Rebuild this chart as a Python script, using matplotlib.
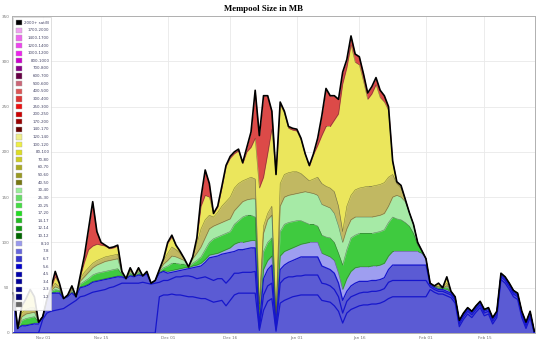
import matplotlib
matplotlib.use("Agg")
import matplotlib.pyplot as plt
import pandas as pd
from matplotlib.patches import Rectangle

FIG_W_PX = 540
FIG_H_PX = 343
OUTPUT = "out.png"

# one value per day, Oct 25 2017 .. Feb 27 2018 (MB, cumulative tops)
dates = pd.date_range("2017-10-25", periods=126, freq="D")

total_mb = [
    44, 5, 30, 38, 48, 40, 12, 18, 37, 50,
    68, 55, 38, 42, 52, 40, 63, 85, 115, 145,
    112, 100, 97, 94, 95, 97, 68, 60, 72, 63,
    72, 63, 68, 55, 58, 70, 82, 100, 108, 97,
    90, 82, 73, 84, 105, 150, 180, 165, 132, 140,
    162, 185, 195, 200, 203, 188, 205, 222, 268, 218,
    262, 262, 245, 175, 255, 245, 228, 226, 225, 215,
    198, 185, 198, 215, 240, 270, 262, 262, 258, 288,
    302, 328, 308, 305, 286, 265, 272, 282, 268, 262,
    250, 190, 167, 163, 148, 133, 120, 100, 91, 82,
    55, 52, 55, 50, 62, 46, 40, 14, 22, 28,
    24, 30, 35, 26, 28, 17, 24, 66, 62, 55,
    47, 44, 24, 12, 24, 2,
]
# top of the 120-140 layer (red layers sit above)
yellow_top = [
    44, 5, 30, 38, 48, 40, 12, 18, 37, 49,
    62, 54, 38, 42, 52, 40, 62, 78, 92, 96,
    98, 97, 96, 93, 94, 96, 68, 60, 72, 63,
    72, 63, 68, 55, 58, 70, 82, 99, 106, 96,
    89, 82, 73, 84, 104, 140, 152, 150, 132, 139,
    160, 184, 193, 198, 201, 187, 200, 205, 215, 160,
    172, 198, 225, 175, 252, 243, 226, 224, 223, 213,
    197, 184, 197, 207, 218, 228, 228, 235, 242, 275,
    293, 318, 299, 296, 278, 258, 264, 274, 260, 255,
    246, 188, 166, 162, 148, 133, 120, 100, 91, 82,
    55, 52, 55, 50, 62, 46, 40, 14, 22, 28,
    24, 30, 35, 26, 28, 17, 24, 66, 62, 55,
    47, 44, 24, 12, 24, 2,
]
# top of the 40-80 layers
olive_top = [
    44, 5, 22, 26, 28, 28, 12, 18, 37, 48,
    55, 51, 38, 42, 50, 40, 60, 67, 72, 77,
    80, 82, 84, 85, 86, 87, 67, 60, 70, 63,
    71, 63, 68, 55, 58, 70, 80, 88, 95, 92,
    88, 82, 73, 84, 98, 115, 125, 130, 128, 133,
    140, 145, 150, 160, 165, 168, 170, 172, 170, 32,
    118, 132, 140, 20, 165, 175, 177, 178, 178, 176,
    172, 168, 170, 172, 165, 162, 160, 156, 140, 112,
    140, 152, 158, 160, 161, 162, 162, 163, 164, 166,
    172, 175, 165, 160, 148, 133, 120, 100, 91, 82,
    55, 52, 52, 50, 55, 46, 40, 14, 22, 28,
    24, 30, 35, 26, 28, 17, 24, 66, 62, 55,
    47, 44, 24, 12, 24, 2,
]
# top of the 30-40 layer
lightgreen_top = [
    44, 5, 18, 21, 22, 23, 12, 18, 37, 47,
    51, 49, 38, 41, 48, 40, 57, 62, 67, 72,
    75, 77, 79, 80, 81, 82, 66, 60, 68, 63,
    69, 63, 67, 55, 58, 69, 76, 80, 85, 84,
    82, 80, 73, 82, 88, 95, 105, 115, 118, 120,
    122, 124, 126, 135, 140, 145, 147, 148, 148, 26,
    110, 125, 130, 16, 140, 150, 152, 153, 154, 155,
    156, 155, 154, 152, 142, 140, 138, 132, 118, 100,
    115, 125, 128, 128, 128, 128, 128, 129, 130, 132,
    140, 150, 152, 150, 145, 133, 120, 100, 91, 82,
    55, 52, 51, 50, 52, 46, 40, 14, 22, 28,
    24, 30, 35, 26, 28, 17, 24, 66, 62, 55,
    47, 44, 24, 12, 24, 2,
]
# top of the 20-25 layer
green_top = [
    44, 5, 14, 16, 17, 18, 12, 18, 37, 46,
    48, 47, 38, 41, 46, 40, 54, 57, 60, 64,
    66, 67, 68, 69, 70, 71, 65, 60, 66, 63,
    67, 63, 66, 55, 58, 68, 72, 74, 77, 77,
    76, 76, 73, 77, 80, 84, 92, 100, 104, 106,
    108, 110, 112, 120, 124, 128, 130, 130, 128, 20,
    90, 100, 105, 12, 112, 120, 122, 123, 124, 124,
    122, 120, 120, 118, 108, 106, 105, 100, 88, 75,
    92, 105, 108, 110, 110, 110, 110, 111, 112, 114,
    122, 128, 126, 125, 122, 118, 110, 97, 91, 82,
    55, 52, 50, 50, 50, 46, 40, 14, 22, 28,
    24, 30, 35, 26, 28, 17, 24, 66, 62, 55,
    47, 44, 24, 12, 24, 2,
]
# top of the 8-10 layer
lavender_top = [
    44, 5, 9, 9, 10, 11, 11, 18, 37, 44,
    45, 45, 38, 40, 45, 40, 51, 52, 54, 57,
    58, 59, 60, 61, 62, 63, 63, 60, 64, 63,
    65, 63, 66, 55, 58, 67, 69, 68, 69, 70,
    71, 72, 72, 74, 75, 77, 81, 86, 87, 88,
    90, 92, 94, 98, 100, 100, 101, 102, 102, 12,
    70, 80, 85, 8, 85, 90, 92, 94, 96, 98,
    99, 100, 100, 100, 88, 86, 84, 80, 66, 48,
    60, 68, 72, 73, 73, 73, 74, 74, 75, 77,
    85, 90, 90, 90, 90, 90, 90, 90, 88, 82,
    54, 51, 49, 49, 48, 45, 39, 13, 21, 27,
    23, 29, 34, 25, 27, 16, 23, 65, 61, 54,
    46, 43, 23, 11, 23, 2,
]
# top of the 7-8 layer
blue_top = [
    44, 5, 8, 8, 9, 10, 10, 17, 37, 44,
    44, 44, 38, 40, 44, 40, 50, 51, 53, 56,
    57, 58, 59, 60, 61, 62, 62, 60, 63, 62,
    64, 63, 65, 55, 58, 66, 68, 66, 67, 68,
    69, 70, 71, 72, 73, 74, 78, 83, 84, 85,
    87, 88, 89, 90, 92, 92, 93, 94, 94, 8,
    60, 70, 75, 6, 70, 75, 78, 80, 82, 84,
    84, 84, 84, 84, 74, 72, 70, 66, 55, 36,
    46, 52, 55, 57, 57, 57, 58, 58, 59, 61,
    70, 75, 75, 75, 75, 75, 75, 75, 75, 75,
    53, 50, 48, 48, 46, 44, 38, 12, 20, 26,
    22, 28, 33, 24, 26, 15, 22, 64, 60, 53,
    45, 42, 22, 10, 22, 1,
]
# blue step lines inside the low-fee stack
low_line_a = [
    0, 0, 0, 0, 0, 0, 0, 15, 22, 24,
    25, 26, 27, 30, 33, 36, 40, 41, 43, 45,
    46, 47, 48, 50, 51, 53, 55, 55, 55, 55,
    55, 56, 55, 54, 55, 56, 58, 58, 60, 62,
    62, 63, 63, 62, 60, 61, 62, 60, 58, 60,
    60, 55, 60, 66, 66, 67, 67, 67, 68, 5,
    42, 52, 55, 4, 55, 60, 62, 62, 63, 63,
    64, 64, 64, 64, 55, 54, 52, 48, 40, 22,
    35, 40, 42, 44, 45, 45, 46, 46, 47, 49,
    56, 58, 58, 58, 58, 58, 58, 58, 58, 58,
    51, 48, 46, 46, 44, 42, 36, 10, 18, 24,
    20, 26, 31, 22, 24, 13, 20, 62, 58, 51,
    43, 40, 20, 8, 20, 0,
]
low_line_b = [
    0, 0, 0, 0, 0, 0, 0, 0, 0, 0,
    0, 0, 0, 0, 0, 0, 0, 0, 0, 0,
    0, 0, 0, 0, 0, 0, 0, 0, 0, 0,
    0, 0, 0, 0, 0, 40, 42, 42, 43, 42,
    42, 41, 40, 40, 39, 38, 38, 36, 34, 35,
    36, 30, 36, 42, 44, 44, 44, 44, 44, 3,
    25, 35, 38, 2, 33, 36, 38, 40, 41, 42,
    42, 42, 42, 42, 36, 35, 34, 30, 24, 11,
    22, 26, 28, 30, 31, 31, 32, 32, 33, 35,
    38, 40, 40, 40, 40, 40, 40, 40, 40, 40,
    48, 45, 43, 43, 41, 39, 33, 7, 15, 21,
    17, 23, 28, 19, 21, 10, 17, 59, 55, 48,
    40, 37, 17, 5, 17, 0,
]

legend_labels = [
    "2000+ sat/B", "1700-2000", "1400-1700", "1200-1400", "1000-1200",
    "800-1000", "700-800", "600-700", "500-600", "400-500", "300-400",
    "250-300", "200-250", "170-200", "140-170", "120-140", "100-120",
    "80-100", "70-80", "60-70", "50-60", "40-50", "30-40", "25-30",
    "20-25", "17-20", "14-17", "12-14", "10-12", "8-10", "7-8", "6-7",
    "5-6", "4-5", "3-4", "2-3", "1-2", "",
]
legend_colors = [
    "#000000", "#f0a0f0", "#ee66ee", "#ee44ee", "#ee22ee",
    "#cc00cc", "#880088", "#660044", "#cc6677", "#dd5555", "#dd3333",
    "#ee1111", "#cc0000", "#990000", "#660000", "#eeee88", "#eeee44",
    "#dddd22", "#cccc22", "#aaaa22", "#999922", "#777711", "#99ee99",
    "#66dd66", "#44dd44", "#22dd22", "#22bb22", "#119911", "#006600",
    "#9999ee", "#6666dd", "#3333cc", "#0000cc", "#0000aa", "#000099",
    "#000088", "#000077", "#666666",
]

tick_dates = pd.to_datetime([
    "2017-11-01", "2017-11-15", "2017-12-01", "2017-12-16",
    "2018-01-01", "2018-01-16", "2018-02-01", "2018-02-15",
])
tick_labels = ["Nov 01", "Nov 15", "Dec 01", "Dec 16",
               "Jan 01", "Jan 16", "Feb 01", "Feb 15"]
y_ticks = [0, 50, 100, 150, 200, 250, 300, 350]

# band fills as they look after the original's transparency
BANDS = [
    (total_mb, "#dc4a48"),
    (yellow_top, "#ebe65c"),
    (olive_top, "#c1b862"),
    (lightgreen_top, "#a6eaa6"),
    (green_top, "#3fca3f"),
    (lavender_top, "#9e9ef0"),
    (blue_top, "#5b5bd4"),
]
EDGE_COLOR = "#2a2a2a"
STEP_COLOR = "#1616cc"


def px_to_fig(x, y):
    return x / FIG_W_PX, 1 - y / FIG_H_PX


def draw_bands(ax):
    clip = None
    for values, color in BANDS:
        coll = ax.fill_between(dates, 0, values, color=color, lw=0, zorder=2)
        if clip is None:
            clip = coll
        else:
            coll.set_clip_path(clip.get_paths()[0], clip.get_transform())
    for values in (yellow_top, olive_top, lightgreen_top, green_top, lavender_top):
        ax.plot(dates, values, color=EDGE_COLOR, lw=0.4, alpha=0.55, zorder=3)
    for values in (blue_top, low_line_a, low_line_b):
        ax.plot(dates, values, color=STEP_COLOR, lw=0.9, zorder=3)
    ax.plot(dates, total_mb, color="black", lw=1.2, zorder=4)


def draw_legend(fig):
    x0, y0 = px_to_fig(13, 310)
    box = Rectangle((x0, y0), 38 / FIG_W_PX, 293 / FIG_H_PX,
                    transform=fig.transFigure, facecolor="white", alpha=0.88,
                    edgecolor="#cccccc", lw=0.5, zorder=5)
    fig.add_artist(box)
    for i, (label, color) in enumerate(zip(legend_labels, legend_colors)):
        y = 22.7 + i * 7.62
        sx, sy = px_to_fig(16, y + 2.6)
        fig.add_artist(Rectangle((sx, sy), 5.5 / FIG_W_PX, 5.2 / FIG_H_PX,
                                 transform=fig.transFigure, facecolor=color,
                                 edgecolor="#aaaaaa", lw=0.3, zorder=6))
        tx, ty = px_to_fig(49.5, y)
        fig.text(tx, ty, label, ha="right", va="center", fontsize=2.9,
                 color="#444466", zorder=6)


def main():
    fig = plt.figure(figsize=(FIG_W_PX / 100, FIG_H_PX / 100), dpi=100)
    ax = fig.add_axes([12 / FIG_W_PX, 10 / FIG_H_PX, 523 / FIG_W_PX, 317 / FIG_H_PX])
    draw_bands(ax)

    ax.set_xlim(dates[0] - pd.Timedelta(hours=9), dates[-1] + pd.Timedelta(hours=4))
    ax.set_ylim(0, 350)
    ax.set_xticks(tick_dates, tick_labels)
    ax.set_yticks(y_ticks, [str(v) for v in y_ticks])
    ax.tick_params(length=0, pad=2, labelsize=3, labelcolor="#777777")
    ax.grid(color="#e9e9e9", lw=0.6)
    ax.set_axisbelow(True)
    for side in ("left", "right", "top", "bottom"):
        ax.spines[side].set_color("#b0b0b0")
        ax.spines[side].set_linewidth(0.7)

    tx, ty = px_to_fig(263, 9.3)
    fig.text(tx, ty, "Mempool Size in MB", ha="center", va="center",
             fontsize=6.3, fontweight="bold", family="Liberation Serif")
    draw_legend(fig)
    fig.savefig(OUTPUT, dpi=100)
    plt.close(fig)


if __name__ == "__main__":
    main()
